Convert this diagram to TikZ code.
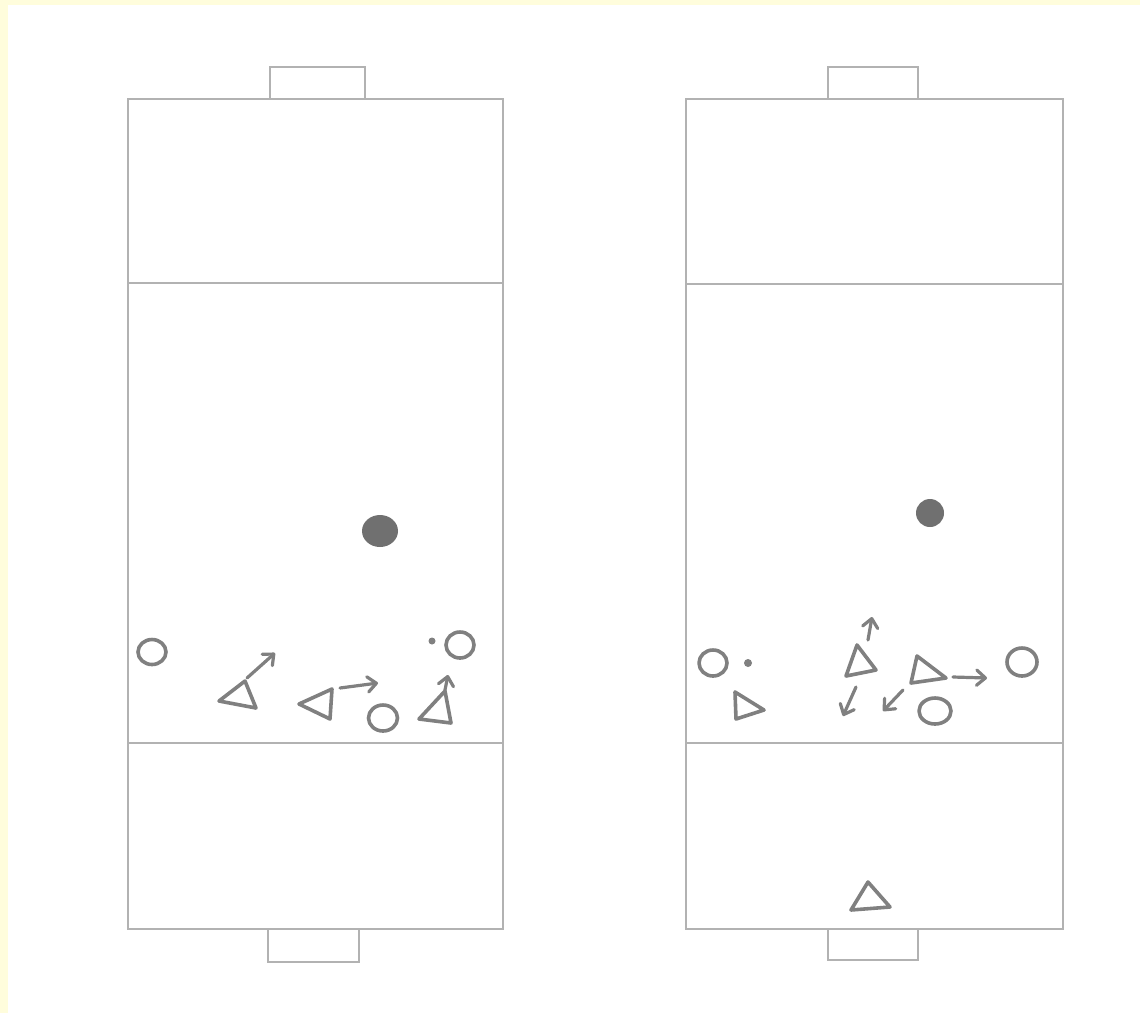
\documentclass[tikz,border=0pt]{standalone}
\usepackage{tikz}
\usetikzlibrary{arrows.meta}
\definecolor{sfondo}{RGB}{255,253,220}
\definecolor{segno}{RGB}{128,128,128}
\definecolor{palla}{RGB}{112,112,112}
\tikzset{
  campo/.style={draw=gray!60, line width=1.3pt},
  gioc/.style={draw=segno, line width=3.6pt, line join=round},
  mossa/.style={draw=segno, line width=3.2pt, line cap=round,
    -{Straight Barb[length=3pt 1.8, width=5pt 3.2, round]}},
}

\begin{document}
\begin{tikzpicture}[x=1pt,y=-1pt]
    % cornice
    \useasboundingbox (0,0) rectangle (1140,1013);
    \fill[sfondo] (0,0) rectangle (1140,1013);
    \fill[white] (8,5) rectangle (1140,1013);

    % campo sinistro
    \draw[campo] (128,99) rectangle (503,929);
    \draw[campo] (128,283) -- (503,283);
    \draw[campo] (128,743) -- (503,743);
    \draw[campo] (270,99) -- (270,67) -- (365,67) -- (365,99);
    \draw[campo] (268,929) -- (268,962) -- (359,962) -- (359,929);

    % campo destro
    \draw[campo] (686,99) rectangle (1063,929);
    \draw[campo] (686,284) -- (1063,284);
    \draw[campo] (686,743) -- (1063,743);
    \draw[campo] (828,99) -- (828,67) -- (918,67) -- (918,99);
    \draw[campo] (828,929) -- (828,960) -- (918,960) -- (918,929);

    % palla
    \fill[palla] (380,531) ellipse (18 and 16);
    \fill[palla] (930,513) circle (14);

    % giocatori a sinistra
    \draw[gioc] (152,652) ellipse (14 and 12.5);
    \draw[gioc] (219,701) -- (245,681) -- (256,708) -- cycle;
    \draw[mossa] (247,678) -- (275,653);
    \draw[gioc] (299,704) -- (332,689) -- (330,719) -- cycle;
    \draw[mossa] (340,688) -- (378,683);
    \draw[gioc] (383,718) ellipse (14.5 and 13);
    \draw[gioc] (419,719) -- (445,691) -- (451,723) -- cycle;
    \draw[mossa] (445,690) -- (448,675);
    \fill[segno] (432,641) circle (3.5);
    \draw[gioc] (460,645) ellipse (14 and 13);

    % giocatori a destra
    \draw[gioc] (713,663) ellipse (14 and 13);
    \fill[segno] (748,663) circle (4);
    \draw[gioc] (735,692) -- (764,710) -- (736,719) -- cycle;
    \draw[gioc] (857,645) -- (876,670) -- (846,676) -- cycle;
    \draw[mossa] (868,640) -- (872,617);
    \draw[mossa] (856,687) -- (843,716);
    \draw[mossa] (903,690) -- (883,711);
    \draw[gioc] (917,656) -- (946,678) -- (911,683) -- cycle;
    \draw[mossa] (953,677) -- (987,678);
    \draw[gioc] (1022,662) ellipse (15 and 14);
    \draw[gioc] (935,711) ellipse (16 and 13);

    % portiere
    \draw[gioc] (868,882) -- (890,907) -- (851,910) -- cycle;
\end{tikzpicture}
\end{document}
